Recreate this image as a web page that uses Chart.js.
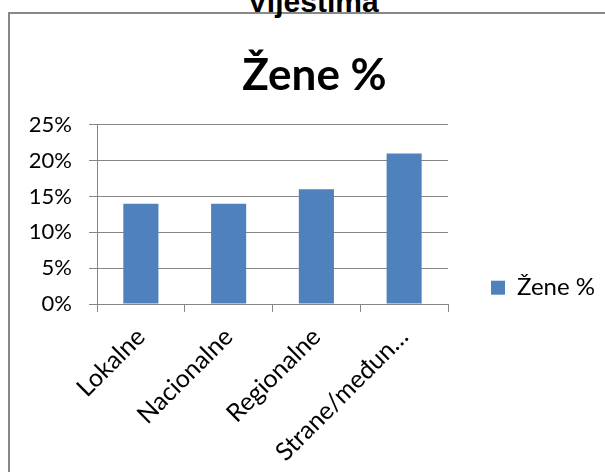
<!DOCTYPE html>
<html>
<head>
<meta charset="utf-8">
<script src="https://cdn.jsdelivr.net/npm/chart.js@4.4.0/dist/chart.umd.min.js"></script>
<style>
  html, body { margin: 0; padding: 0; background: #fff; overflow: hidden; }
  #wrap { position: relative; width: 605px; height: 472px; overflow: hidden; }
  #frame { position: absolute; left: 8px; top: 12px; width: 620px; height: 480px; border: 2px solid #888; }
  #upper { position: absolute; left: 0; top: -13px; width: 626px; text-align: center;
           font: bold 30px "Liberation Sans", Arial, sans-serif; line-height: 30px; color: #000; }
  /* platno je sire od prozora da naslov bude centriran kao u originalu */
  #box { position: absolute; left: 0; top: 0; width: 625px; height: 472px; }
</style>
</head>
<body>
<div id="wrap">
  <div id="frame"></div>
  <div id="upper">Vijestima</div>
  <div id="box"><canvas id="zeneChart"></canvas></div>
</div>
<script>
// podaci sa grafikona
const categories = ['Lokalne', 'Nacionalne', 'Regionalne', 'Strane/međun…'];
const zenePct = [14, 14, 16, 21];
const yTickValues = [0, 5, 10, 15, 20, 25];
const seriesName = 'Žene %';

const gridGray = '#868686';
const barBlue = '#4F81BD';

Chart.defaults.font.family = 'Lato, "Open Sans", sans-serif';
Chart.defaults.color = '#000';

const ctx = document.getElementById('zeneChart').getContext('2d');
new Chart(ctx, {
  type: 'bar',
  data: {
    labels: categories,
    datasets: [{
      label: seriesName,
      data: zenePct,
      backgroundColor: barBlue,
      borderWidth: 0,
      barPercentage: 0.4,
      categoryPercentage: 1.0
    }]
  },
  options: {
    responsive: true,
    maintainAspectRatio: false,
    animation: false,
    layout: {
      padding: { top: 39, left: 24, right: 20, bottom: 0 }
    },
    scales: {
      x: {
        grid: { offset: true, drawOnChartArea: false, color: gridGray, tickLength: 8 },
        border: { color: gridGray },
        ticks: {
          autoSkip: false,
          minRotation: 45,
          maxRotation: 45,
          font: { size: 25 },
          padding: 10
        },
        afterFit: (scale) => { scale.height = 168; }
      },
      y: {
        min: 0,
        max: 25,
        afterBuildTicks: (scale) => {
          scale.ticks = yTickValues.map(v => ({ value: v }));
        },
        grid: { color: gridGray, tickLength: 8 },
        border: { color: gridGray },
        ticks: {
          font: { size: 22 },
          padding: 17,
          callback: (v) => v + '%'
        },
        afterFit: (scale) => { scale.width = 73; }
      }
    },
    plugins: {
      title: {
        display: true,
        text: seriesName,
        font: { size: 44, weight: 'bold' },
        padding: { top: 10, bottom: 23 }
      },
      legend: {
        position: 'right',
        maxWidth: 300,
        // prazan naslov legende samo spusta stavku nize
        title: { display: true, text: '', padding: { top: 20, bottom: 18 }, font: { size: 22 } },
        labels: {
          boxWidth: 14,
          boxHeight: 14,
          padding: 43,
          font: { size: 24 }
        }
      },
      tooltip: { enabled: false }
    }
  }
});
</script>
</body>
</html>
